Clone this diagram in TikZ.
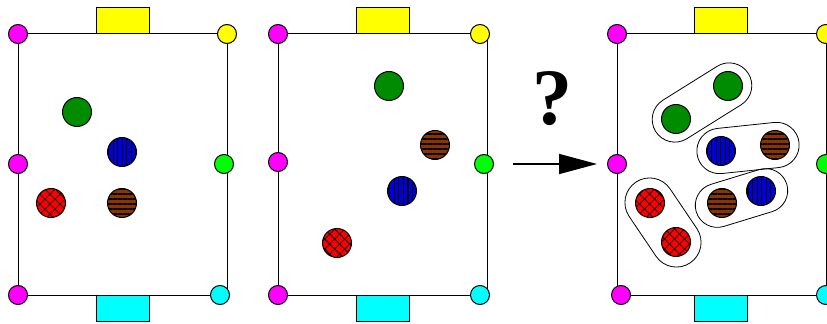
\documentclass[tikz,border=0pt]{standalone}
\usepackage{fontspec}
\setmainfont{Liberation Serif}
\usetikzlibrary{patterns.meta,shapes.misc,arrows.meta}
\definecolor{fgreen}{RGB}{0,140,0}
\definecolor{fblue}{RGB}{0,0,215}
\definecolor{fbrown}{RGB}{140,52,0}
\definecolor{fmagenta}{RGB}{255,0,255}
\definecolor{fcyan}{RGB}{0,255,255}
\definecolor{fyellow}{RGB}{255,255,0}
\definecolor{flime}{RGB}{0,255,0}
\definecolor{fred}{RGB}{255,0,0}
\begin{document}
\begin{tikzpicture}[
  x=0.75pt, y=-0.75pt, line width=0.75pt,
  pin/.style={circle,draw,inner sep=0pt,minimum size=14.25pt},
  tab/.style={draw,minimum width=39.75pt,minimum height=19.5pt,inner sep=0pt},
  ball/.style={circle,draw,inner sep=0pt,minimum size=21.75pt},
  gball/.style={ball,fill=fgreen},
  bball/.style={ball,preaction={fill=fblue},pattern={Lines[angle=90,distance=3.4pt,line width=0.8pt]}},
  nball/.style={ball,preaction={fill=fbrown},pattern={Lines[angle=0,distance=3.75pt,line width=1pt]}},
  rball/.style={ball,preaction={fill=fred},pattern={Hatch[angle=45,distance=5.3pt,line width=0.55pt]}},
  grp/.style={rounded rectangle,draw,line width=0.6pt,inner sep=0pt}]

\useasboundingbox (0,0) rectangle (827,324);

% first board
\draw (18,34) rectangle (227,295);
\node[tab,fill=fyellow] (t1n) at (122.5,21) {};
\node[tab,fill=fcyan]   (t1s) at (122.5,308) {};
\node[pin,fill=fmagenta] (p1nw) at (18,34) {};
\node[pin,fill=fyellow]  (p1ne) at (227,34) {};
\node[pin,fill=fmagenta] (p1w)  at (18,164) {};
\node[pin,fill=flime]    (p1e)  at (224,164) {};
\node[pin,fill=fmagenta] (p1sw) at (18,295) {};
\node[pin,fill=fcyan]    (p1se) at (220,295) {};
\node[gball] (g1) at (77,112) {};
\node[bball] (b1) at (122,152) {};
\node[rball] (r1) at (51,203) {};
\node[nball] (n1) at (122,203) {};

% second board
\draw (278,34) rectangle (487,295);
\node[tab,fill=fyellow] (t2n) at (382.5,21) {};
\node[tab,fill=fcyan]   (t2s) at (382.5,308) {};
\node[pin,fill=fmagenta] (p2nw) at (278,34) {};
\node[pin,fill=fyellow]  (p2ne) at (480,34) {};
\node[pin,fill=fmagenta] (p2w)  at (278,162) {};
\node[pin,fill=flime]    (p2e)  at (484,164) {};
\node[pin,fill=fmagenta] (p2sw) at (278,295) {};
\node[pin,fill=fcyan]    (p2se) at (480,295) {};
\node[gball] (g2) at (389,86) {};
\node[nball] (n2) at (435,145) {};
\node[bball] (b2) at (402,191) {};
\node[rball] (r2) at (337,243) {};

% question and arrow
\node[font=\fontsize{60}{60}\selectfont\bfseries] (qmark) at (552,99) {?};
\coordinate (a0) at (513,164);

% third board, balls paired up
\draw (617,34) rectangle (826,295);
\node[tab,fill=fyellow] (t3n) at (721,21) {};
\node[tab,fill=fcyan]   (t3s) at (721,308) {};
\node[pin,fill=fmagenta] (p3nw) at (617,34) {};
\node[pin,fill=fyellow]  (p3ne) at (826,34) {};
\node[pin,fill=fmagenta] (p3w)  at (617,164) {};
\node[pin,fill=flime]    (p3e)  at (826,164) {};
\node[pin,fill=fmagenta] (p3sw) at (621,295) {};
\node[pin,fill=fcyan]    (p3se) at (826,295) {};
\draw[-{Triangle[length=28.5pt,width=15pt]},line width=1.1pt,shorten >=7.5pt] (a0) -- (p3w);

\node[grp,rotate=32,minimum width=82pt,minimum height=34pt]  (gg) at (702,102.5) {};
\node[grp,rotate=6,minimum width=77pt,minimum height=34pt]   (gt) at (748,148) {};
\node[grp,rotate=17,minimum width=71pt,minimum height=33pt]  (gb) at (741.5,198) {};
\node[grp,rotate=-56,minimum width=73pt,minimum height=37pt] (gr) at (663,222.5) {};
\node[gball] (g3a) at (728,86) {};
\node[gball] (g3b) at (676,119) {};
\node[bball] (b3a) at (721,151) {};
\node[nball] (n3a) at (775,145) {};
\node[nball] (n3b) at (722,203) {};
\node[bball] (b3b) at (761,191) {};
\node[rball] (r3a) at (650,203) {};
\node[rball] (r3b) at (676,242) {};
\end{tikzpicture}
\end{document}
